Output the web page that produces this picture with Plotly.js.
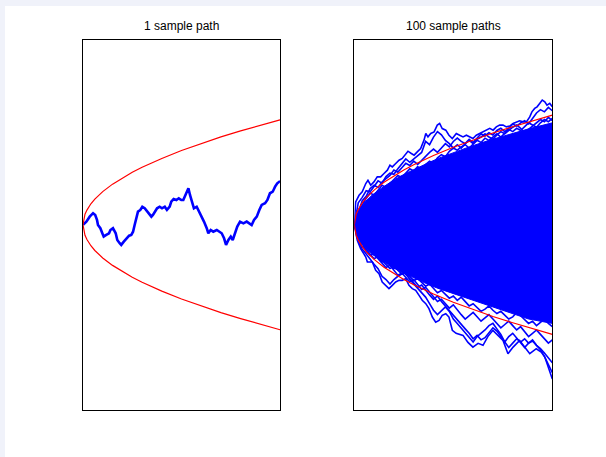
<!DOCTYPE html>
<html>
<head>
<meta charset="utf-8">
<script src="https://cdn.plot.ly/plotly-3.0.1.min.js"></script>
<style>
  html, body { margin: 0; padding: 0; width: 606px; height: 457px; background: #f0f2fa; overflow: hidden; }
  #plot { position: absolute; left: 5px; top: 6px; width: 601px; height: 451px; background: #ffffff; }
</style>
</head>
<body>
<div id="plot"></div>
<script>
// ---- titles ----
const titles = ["1 sample path", "100 sample paths"];

// ---- red envelope ----
const envT   = [0, 0.005, 0.01, 0.02, 0.04, 0.06, 0.08, 0.1, 0.15, 0.2, 0.25, 0.3, 0.4, 0.5, 0.6, 0.7, 0.8, 0.9, 1.0];
const envUp  = [0, 0.07, 0.1, 0.14, 0.2, 0.245, 0.283, 0.316, 0.387, 0.447, 0.5, 0.548, 0.632, 0.707, 0.775, 0.837, 0.894, 0.949, 1.0];
const envLow = [0, -0.07, -0.1, -0.14, -0.2, -0.245, -0.283, -0.316, -0.387, -0.447, -0.5, -0.548, -0.632, -0.707, -0.775, -0.837, -0.894, -0.949, -1.0];

// ---- left panel: single sample path ----
const leftT = [0, 0.017, 0.034, 0.051, 0.062, 0.071, 0.076, 0.088, 0.098, 0.105, 0.118, 0.132, 0.139, 0.152, 0.166, 0.174, 0.186, 0.194, 0.207, 0.220, 0.234, 0.245, 0.254, 0.262, 0.271, 0.279, 0.291, 0.301, 0.313, 0.325, 0.335, 0.347, 0.355, 0.364, 0.376, 0.389, 0.401, 0.415, 0.426, 0.440, 0.448, 0.460, 0.474, 0.486, 0.499, 0.509, 0.526, 0.535, 0.543, 0.552, 0.563, 0.577, 0.590, 0.603, 0.614, 0.628, 0.636, 0.648, 0.661, 0.679, 0.692, 0.704, 0.716, 0.726, 0.738, 0.750, 0.760, 0.772, 0.783, 0.797, 0.814, 0.831, 0.844, 0.856, 0.868, 0.882, 0.895, 0.907, 0.924, 0.936, 0.949, 0.963, 0.975, 0.986, 0.996, 1.0];
const leftW = [0, 0.03, 0.077, 0.11, 0.093, 0.046, -0.002, -0.033, -0.081, -0.113, -0.097, -0.081, -0.05, -0.033, -0.081, -0.145, -0.176, -0.192, -0.161, -0.129, -0.104, -0.097, -0.066, -0.002, 0.077, 0.125, 0.141, 0.172, 0.157, 0.125, 0.11, 0.077, 0.093, 0.125, 0.157, 0.172, 0.157, 0.172, 0.141, 0.172, 0.22, 0.246, 0.236, 0.252, 0.236, 0.236, 0.30, 0.348, 0.284, 0.22, 0.157, 0.172, 0.125, 0.077, 0.03, -0.033, -0.081, -0.05, -0.066, -0.05, -0.066, -0.081, -0.129, -0.192, -0.145, -0.113, -0.145, -0.066, -0.018, 0.03, 0.014, 0.03, 0.014, -0.002, 0.046, 0.077, 0.141, 0.189, 0.205, 0.236, 0.30, 0.315, 0.363, 0.395, 0.41, 0.405];

// ---- right panel: bundle of 100 paths ----
// dense core of the bundle (inner edges)
const massT      = [0, 0.01, 0.03, 0.055, 0.09, 0.13, 0.18, 0.23, 0.28, 0.33, 0.38, 0.43, 0.5, 0.58, 0.68, 0.78, 0.88, 1.0];
const massTop    = [0, 0.085, 0.15, 0.21, 0.27, 0.325, 0.385, 0.44, 0.485, 0.53, 0.57, 0.61, 0.66, 0.71, 0.77, 0.825, 0.875, 0.93];
const massBottom = [0, -0.085, -0.155, -0.21, -0.27, -0.32, -0.375, -0.425, -0.47, -0.51, -0.55, -0.585, -0.63, -0.68, -0.74, -0.80, -0.86, -0.90];

// highest path edge
const upT = [0, 0.007, 0.024, 0.040, 0.058, 0.069, 0.083, 0.099, 0.116, 0.133, 0.150, 0.167, 0.180, 0.192, 0.209, 0.226, 0.242, 0.260, 0.271, 0.288, 0.302, 0.318, 0.335, 0.352, 0.361, 0.372, 0.386, 0.403, 0.419, 0.431, 0.444, 0.462, 0.478, 0.495, 0.515, 0.532, 0.549, 0.566, 0.583, 0.599, 0.616, 0.633, 0.650, 0.667, 0.684, 0.701, 0.717, 0.734, 0.751, 0.768, 0.785, 0.802, 0.818, 0.835, 0.852, 0.869, 0.886, 0.897, 0.911, 0.923, 0.936, 0.949, 0.962, 0.973, 0.987, 1.0];
const upW = [0, 0.208, 0.269, 0.30, 0.376, 0.406, 0.361, 0.391, 0.437, 0.437, 0.468, 0.498, 0.543, 0.528, 0.559, 0.589, 0.605, 0.650, 0.671, 0.650, 0.635, 0.665, 0.696, 0.772, 0.833, 0.802, 0.833, 0.847, 0.909, 0.924, 0.878, 0.863, 0.817, 0.787, 0.833, 0.817, 0.802, 0.817, 0.802, 0.787, 0.817, 0.833, 0.847, 0.869, 0.879, 0.863, 0.893, 0.909, 0.909, 0.893, 0.900, 0.924, 0.939, 0.948, 0.939, 0.939, 0.984, 1.030, 1.061, 1.076, 1.107, 1.137, 1.121, 1.091, 1.107, 1.076];

// lowest path edge
const loT = [0, 0.015, 0.032, 0.058, 0.066, 0.091, 0.108, 0.125, 0.141, 0.159, 0.175, 0.192, 0.209, 0.226, 0.242, 0.260, 0.276, 0.293, 0.310, 0.327, 0.343, 0.361, 0.377, 0.394, 0.411, 0.428, 0.444, 0.462, 0.478, 0.495, 0.514, 0.549, 0.574, 0.599, 0.625, 0.650, 0.675, 0.700, 0.726, 0.751, 0.776, 0.802, 0.835, 0.861, 0.886, 0.919, 0.944, 0.962, 0.978, 0.990, 1.0];
const loW = [0, -0.142, -0.217, -0.294, -0.340, -0.340, -0.416, -0.446, -0.522, -0.553, -0.583, -0.553, -0.522, -0.507, -0.507, -0.491, -0.553, -0.583, -0.598, -0.644, -0.689, -0.720, -0.765, -0.842, -0.888, -0.872, -0.826, -0.811, -0.842, -0.963, -0.991, -1.009, -1.073, -1.116, -1.082, -1.100, -1.018, -0.963, -1.009, -1.055, -1.176, -1.116, -1.055, -1.116, -1.176, -1.131, -1.162, -1.207, -1.299, -1.36, -1.408];

// individual paths between core and edges (51 samples, step 0.02)
const pathT = [0, 0.02, 0.04, 0.06, 0.08, 0.1, 0.12, 0.14, 0.16, 0.18, 0.2, 0.22, 0.24, 0.26, 0.28, 0.3, 0.32, 0.34, 0.36, 0.38, 0.4, 0.42, 0.44, 0.46, 0.48, 0.5, 0.52, 0.54, 0.56, 0.58, 0.6, 0.62, 0.64, 0.66, 0.68, 0.7, 0.72, 0.74, 0.76, 0.78, 0.8, 0.82, 0.84, 0.86, 0.88, 0.9, 0.92, 0.94, 0.96, 0.98, 1.0];
const pathU1 = [0, 0.20, 0.25, 0.31, 0.30, 0.35, 0.40, 0.38, 0.44, 0.47, 0.46, 0.51, 0.55, 0.60, 0.57, 0.60, 0.63, 0.66, 0.76, 0.73, 0.80, 0.85, 0.82, 0.77, 0.74, 0.70, 0.73, 0.70, 0.74, 0.77, 0.74, 0.78, 0.80, 0.83, 0.80, 0.78, 0.82, 0.85, 0.83, 0.86, 0.89, 0.91, 0.88, 0.84, 0.87, 0.90, 0.93, 0.96, 0.94, 0.98, 0.95];
const pathU2 = [0, 0.12, 0.22, 0.26, 0.33, 0.36, 0.34, 0.39, 0.42, 0.45, 0.50, 0.48, 0.52, 0.56, 0.54, 0.58, 0.55, 0.59, 0.63, 0.66, 0.69, 0.66, 0.70, 0.74, 0.71, 0.76, 0.79, 0.76, 0.74, 0.78, 0.75, 0.79, 0.83, 0.81, 0.84, 0.82, 0.86, 0.88, 0.85, 0.88, 0.92, 0.90, 0.93, 0.95, 0.92, 0.97, 1.02, 1.05, 1.03, 1.07, 1.04];
const pathU3 = [0, 0.10, 0.18, 0.24, 0.29, 0.27, 0.32, 0.36, 0.34, 0.38, 0.42, 0.45, 0.43, 0.47, 0.51, 0.49, 0.53, 0.50, 0.55, 0.58, 0.56, 0.61, 0.64, 0.62, 0.67, 0.70, 0.68, 0.71, 0.73, 0.70, 0.74, 0.77, 0.75, 0.79, 0.77, 0.80, 0.83, 0.80, 0.84, 0.87, 0.85, 0.88, 0.86, 0.90, 0.93, 0.91, 0.89, 0.93, 0.96, 0.94, 0.97];
const pathL1 = [0, -0.15, -0.22, -0.27, -0.31, -0.36, -0.40, -0.47, -0.50, -0.54, -0.50, -0.47, -0.45, -0.44, -0.50, -0.54, -0.58, -0.62, -0.66, -0.72, -0.78, -0.82, -0.78, -0.75, -0.79, -0.86, -0.90, -0.94, -0.98, -1.03, -1.07, -1.02, -0.99, -0.96, -0.92, -0.90, -0.95, -1.00, -1.07, -1.02, -0.99, -1.03, -1.08, -1.12, -1.08, -1.05, -1.10, -1.14, -1.20, -1.27, -1.35];
const pathL2 = [0, -0.10, -0.17, -0.24, -0.28, -0.26, -0.31, -0.35, -0.39, -0.37, -0.42, -0.46, -0.44, -0.48, -0.52, -0.50, -0.55, -0.59, -0.57, -0.61, -0.66, -0.70, -0.68, -0.72, -0.76, -0.73, -0.77, -0.82, -0.86, -0.83, -0.80, -0.84, -0.88, -0.85, -0.82, -0.86, -0.90, -0.94, -0.91, -0.88, -0.92, -0.96, -0.93, -0.98, -1.02, -0.99, -0.96, -1.00, -1.04, -1.08, -1.05];
const pathL3 = [0, -0.13, -0.20, -0.22, -0.27, -0.31, -0.29, -0.33, -0.37, -0.40, -0.38, -0.42, -0.45, -0.43, -0.47, -0.51, -0.49, -0.53, -0.56, -0.54, -0.58, -0.62, -0.60, -0.64, -0.67, -0.65, -0.69, -0.66, -0.70, -0.74, -0.72, -0.76, -0.79, -0.77, -0.74, -0.78, -0.81, -0.79, -0.83, -0.86, -0.84, -0.80, -0.83, -0.87, -0.90, -0.88, -0.92, -0.89, -0.86, -0.90, -0.93];
const pathL4 = [0, -0.08, -0.14, -0.19, -0.23, -0.27, -0.30, -0.34, -0.32, -0.36, -0.40, -0.38, -0.42, -0.46, -0.49, -0.53, -0.57, -0.55, -0.60, -0.64, -0.68, -0.65, -0.70, -0.74, -0.78, -0.82, -0.86, -0.91, -0.95, -0.99, -1.04, -1.01, -1.05, -1.03, -0.98, -0.94, -0.97, -1.02, -1.07, -1.12, -1.08, -1.04, -1.07, -1.04, -1.08, -1.06, -1.10, -1.13, -1.17, -1.22, -1.26];

// ---- build traces ----
const BLUE = '#0000ff', RED = '#ff0000';
const traces = [];

traces.push({x: leftT, y: leftW, xaxis: 'x', yaxis: 'y', mode: 'lines', line: {color: BLUE, width: 2.6}, hoverinfo: 'skip'});
traces.push({x: envT, y: envUp, xaxis: 'x', yaxis: 'y', mode: 'lines', line: {color: RED, width: 1.2}, hoverinfo: 'skip'});
traces.push({x: envT, y: envLow, xaxis: 'x', yaxis: 'y', mode: 'lines', line: {color: RED, width: 1.2}, hoverinfo: 'skip'});

// dense core polygon built from the core edges
const coreX = massT.concat(massT.slice().reverse());
const coreY = massTop.concat(massBottom.slice().reverse());
traces.push({x: coreX, y: coreY, xaxis: 'x2', yaxis: 'y2', mode: 'lines', fill: 'toself', fillcolor: BLUE, line: {color: BLUE, width: 1}, hoverinfo: 'skip'});

const paths = [pathU1, pathU2, pathU3, pathL1, pathL2, pathL3, pathL4];
paths.forEach(p => traces.push({x: pathT, y: p, xaxis: 'x2', yaxis: 'y2', mode: 'lines', line: {color: BLUE, width: 1.6}, hoverinfo: 'skip'}));
traces.push({x: upT, y: upW, xaxis: 'x2', yaxis: 'y2', mode: 'lines', line: {color: BLUE, width: 1.6}, hoverinfo: 'skip'});
traces.push({x: loT, y: loW, xaxis: 'x2', yaxis: 'y2', mode: 'lines', line: {color: BLUE, width: 1.6}, hoverinfo: 'skip'});

traces.push({x: envT, y: envUp, xaxis: 'x2', yaxis: 'y2', mode: 'lines', line: {color: RED, width: 1.2}, hoverinfo: 'skip'});
traces.push({x: envT, y: envLow, xaxis: 'x2', yaxis: 'y2', mode: 'lines', line: {color: RED, width: 1.2}, hoverinfo: 'skip'});

const axBase = {showline: true, mirror: true, linecolor: '#000000', linewidth: 1, showticklabels: false, ticks: '', showgrid: false, zeroline: false, fixedrange: true};
const yDom = [0.1042, 0.9257];
const titleFont = {family: '"Liberation Sans Narrow", "Arial Narrow", "Liberation Sans", Arial, sans-serif', size: 12, color: '#000000'};

const layout = {
  width: 601, height: 451,
  margin: {l: 0, r: 0, t: 0, b: 0},
  paper_bgcolor: '#ffffff', plot_bgcolor: '#ffffff',
  showlegend: false,
  xaxis:  Object.assign({}, axBase, {domain: [0.1298, 0.4576], range: [0, 1], anchor: 'y'}),
  yaxis:  Object.assign({}, axBase, {domain: yDom, range: [-1.765, 1.765], anchor: 'x'}),
  xaxis2: Object.assign({}, axBase, {domain: [0.5812, 0.9107], range: [0, 1], anchor: 'y2'}),
  yaxis2: Object.assign({}, axBase, {domain: yDom, range: [-1.69, 1.69], anchor: 'x2'}),
  annotations: [
    {text: titles[0], xref: 'paper', yref: 'paper', x: (0.1298 + 0.4576) / 2, y: 0.9357, xanchor: 'center', yanchor: 'bottom', showarrow: false, font: titleFont},
    {text: titles[1], xref: 'paper', yref: 'paper', x: (0.5812 + 0.9107) / 2, y: 0.9357, xanchor: 'center', yanchor: 'bottom', showarrow: false, font: titleFont}
  ]
};

Plotly.newPlot('plot', traces, layout, {staticPlot: true, displayModeBar: false});
</script>
</body>
</html>
